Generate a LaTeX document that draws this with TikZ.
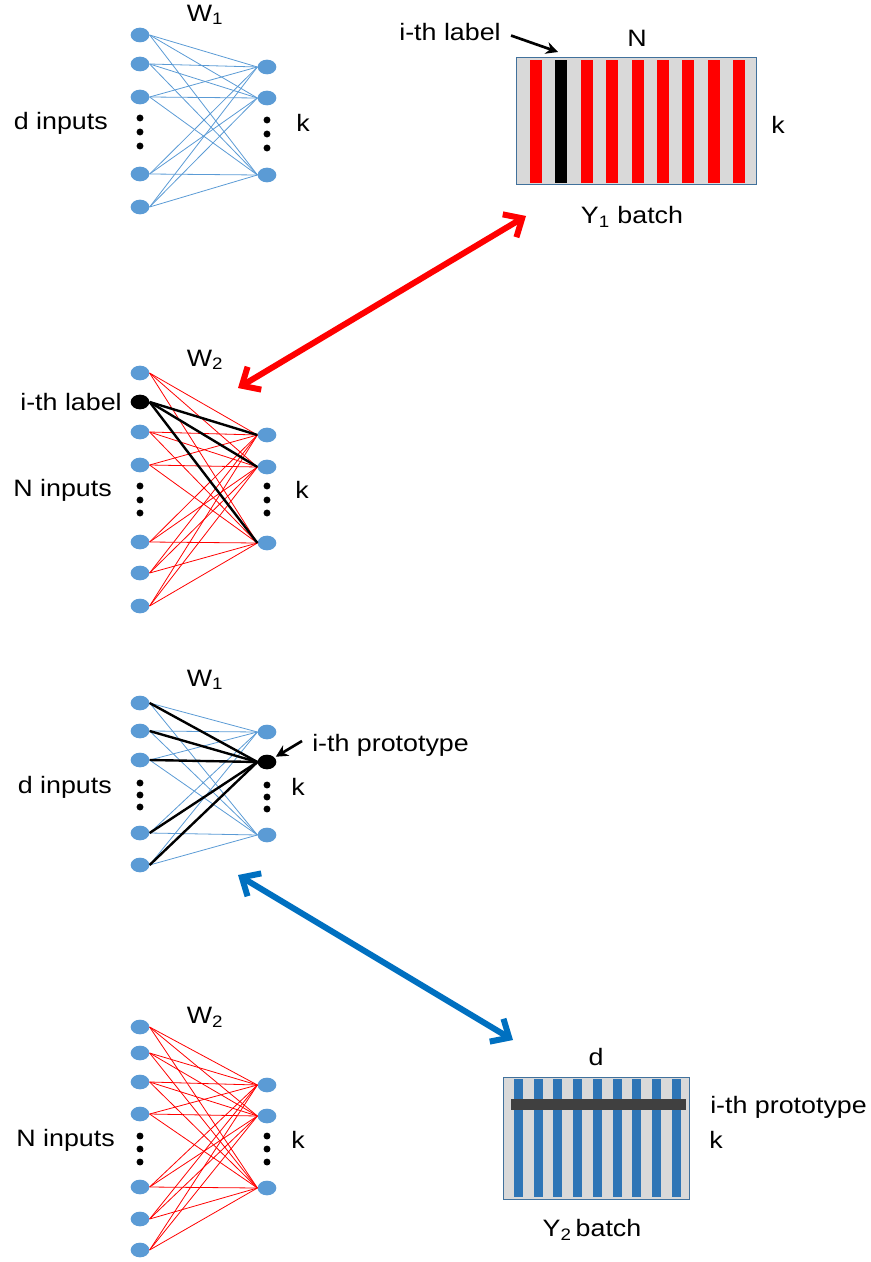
\documentclass[tikz,border=0pt]{standalone}
\usepackage{fontspec}
\setmainfont{Liberation Sans}[FakeStretch=1.13]
\usetikzlibrary{shapes.geometric,arrows.meta}
\definecolor{unitblue}{RGB}{91,155,213}
\definecolor{boxline}{RGB}{65,113,156}
\definecolor{boxgray}{RGB}{217,217,217}
\definecolor{arrowblue}{RGB}{0,112,192}
\definecolor{stripeblue}{RGB}{46,117,182}
\definecolor{bardark}{RGB}{64,64,64}
\tikzset{
  unit/.style={ellipse,fill=unitblue,minimum width=14pt,minimum height=11pt,inner sep=0pt},
  hot/.style={unit,fill=black},
  txt/.style={inner sep=0pt,font=\fontsize{17.8}{20}\selectfont},
  wblue/.style={unitblue,line width=0.6pt},
  wred/.style={red,line width=0.6pt},
  wblack/.style={black,line width=1.8pt},
  bigarrow/.style={line width=4.5pt,{Straight Barb[length=11pt,width=20pt]}-{Straight Barb[length=11pt,width=20pt]}},
  pointer/.style={line width=2pt,-{Stealth[length=9pt,width=9pt]}}
}
\begin{document}
\begin{tikzpicture}[x=0.75pt,y=-0.75pt]
\useasboundingbox (0,0) rectangle (870,1262);
\foreach \y [count=\i] in {35,64,97,174,207} \node[unit] (a\i) at (140,\y) {};
\foreach \y [count=\j] in {67,98,175} \node[unit] (b\j) at (267,\y) {};
\foreach \i in {1,...,5} \foreach \j in {1,2,3} \draw[wblue] (a\i.east) -- (b\j.west);
\foreach \y in {118,132,146} {\fill (140,\y) circle (2.6pt); \fill (267,\y+2) circle (2.6pt);}
\node[txt] (w1top) at (205,15) {W\textsubscript{1}};
\node[txt,anchor=east] (dtop) at (108,123) {d inputs};
\node[txt] (ktop) at (303,123) {k};

\foreach \y/\s [count=\i] in {373/unit,402/hot,432/unit,465/unit,542/unit,573/unit,606/unit} \node[\s] (c\i) at (140,\y) {};
\foreach \y [count=\j] in {435,467,543} \node[unit] (e\j) at (267,\y) {};
\foreach \i in {1,3,4,5,6,7} \foreach \j in {1,2,3} \draw[wred] (c\i.east) -- (e\j.west);
\foreach \j in {1,2,3} \draw[wblack] (c2.east) -- (e\j.west);
\foreach \y in {486,500,513} {\fill (140,\y) circle (2.6pt); \fill (267,\y) circle (2.6pt);}
\node[txt] (w2a) at (205,360) {W\textsubscript{2}};
\node[txt,anchor=east] (ilabnet) at (122,402) {i-th label};
\node[txt,anchor=east] (nsec) at (112,490) {N inputs};
\node[txt] (ksec) at (302,490) {k};

\foreach \y [count=\i] in {703,731,760,833,865} \node[unit] (d\i) at (140,\y) {};
\foreach \y/\s [count=\j] in {732/unit,762/hot,835/unit} \node[\s] (f\j) at (267,\y) {};
\foreach \i in {1,...,5} \foreach \j in {1,2,3} \draw[wblue] (d\i.east) -- (f\j.west);
\foreach \i in {1,...,5} \draw[wblack] (d\i.east) -- (f2.west);
\foreach \y in {783,795,807} {\fill (140,\y) circle (2.6pt); \fill (267,\y+2) circle (2.6pt);}
\node[txt] (w1b) at (205,680) {W\textsubscript{1}};
\node[txt,anchor=east] (dthird) at (112,787) {d inputs};
\node[txt] (kthird) at (298,787) {k};
\node[txt,anchor=west] (iproto) at (312,745) {i-th prototype};
\coordinate (pstart) at (302,741);
\draw[pointer,shorten >=1pt] (pstart) -- (f2);

\foreach \y [count=\i] in {1027,1053,1082,1114,1187,1219,1250} \node[unit] (g\i) at (140,\y) {};
\foreach \y [count=\j] in {1085,1116,1188} \node[unit] (h\j) at (267,\y) {};
\foreach \i in {1,...,7} \foreach \j in {1,2,3} \draw[wred] (g\i.east) -- (h\j.west);
\foreach \y in {1136,1149,1162} {\fill (140,\y) circle (2.6pt); \fill (267,\y) circle (2.6pt);}
\node[txt] (w2b) at (205,1017) {W\textsubscript{2}};
\node[txt,anchor=east] (nlast) at (115,1140) {N inputs};
\node[txt] (klast) at (298,1140) {k};

\draw[boxline,fill=boxgray] (516,57) rectangle (756,184);
\foreach \n in {0,...,8} \fill[red] ({530+25.4*\n},60) rectangle ++(12,123);
\fill[black] (555.4,60) rectangle ++(12,123);
\node[txt] (ntop) at (637,38) {N};
\node[txt] (kbox) at (778,125) {k};
\node[txt] (yone) at (632,217) {Y\textsubscript{1} batch};
\node[txt] (ilab) at (450,32) {i-th label};
\coordinate (stripe) at (558,52);
\draw[pointer,shorten <=8pt] (ilab.east) -- (stripe);

\draw[boxline,fill=boxgray] (503,1077) rectangle (689,1199);
\foreach \n in {0,...,8} \fill[stripeblue] ({514+19.7*\n},1079) rectangle ++(9,118);
\fill[bardark] (511,1099) rectangle (686,1110);
\node[txt] (dbox) at (596,1057) {d};
\node[txt,anchor=west] (iprow) at (710,1107) {i-th prototype};
\node[txt,anchor=west] (krow) at (709,1140) {k};
\node[txt] (ytwo) at (592,1230) {Y\textsubscript{2}\,batch};

\coordinate (r1) at (238,388);
\coordinate (r2) at (526,216);
\draw[bigarrow,red] (r1) -- (r2);
\coordinate (s1) at (238,875);
\coordinate (s2) at (513,1040);
\draw[bigarrow,arrowblue] (s1) -- (s2);
\end{tikzpicture}
\end{document}
